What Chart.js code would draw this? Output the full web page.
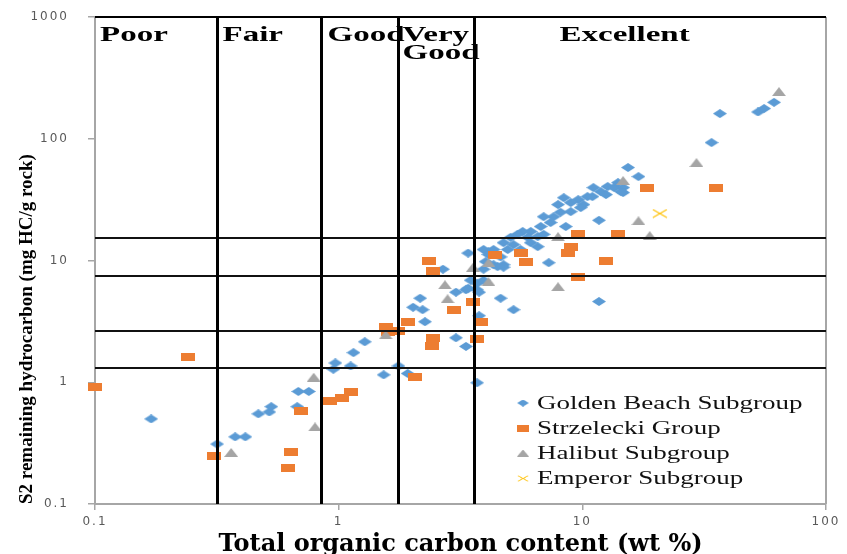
<!DOCTYPE html>
<html>
<head>
<meta charset="utf-8">
<script src="https://cdn.jsdelivr.net/npm/chart.js@4/dist/chart.umd.min.js"></script>
<style>
html,body{margin:0;padding:0;background:#fff;overflow:hidden}
#wrap{width:847px;height:554px;position:relative}
</style>
</head>
<body>
<div id="wrap"><canvas id="c"></canvas></div>
<script>
// ---- data ----
const xTickValues = [0.1, 1, 10, 100];
const yTickValues = [0.1, 1, 10, 100, 1000];
const tocBoundaries = [0.317, 0.849, 1.75, 3.6];
const s2Boundaries = [1.31, 2.63, 7.46, 15.3];
const zoneLabels = ['Poor', 'Fair', 'Good', 'Very\nGood', 'Excellent'];
const seriesNames = ['Golden Beach Subgroup', 'Strzelecki Group', 'Halibut Subgroup', 'Emperor Subgroup'];
const xTitle = 'Total organic carbon content (wt %)';
const yTitle = 'S2 remaining hydrocarbon (mg HC/g rock)';

const goldenBeachTOC = [0.170,0.317,0.376,0.414,0.468,0.519,0.529,0.676,0.683,0.754,0.951,0.969,1.12,1.15,1.28,1.53,1.76,1.92,2.02,2.16,2.21,2.26,2.68,3.03,3.03,3.33,3.33,3.40,3.48,3.70,3.70,3.77,3.93,4.12,4.62,4.75,5.22,7.28,11.7,11.7,15.4,17.0,33.9,36.7,52.6,55.7,61.2,14.7,14.7,
  8.39,7.95,6.94,8.14,8.96,9.62,10.1,10.5,11.1,11.9,12.7,13.5,14.4,14.0,12.5,11.0,9.85,8.96,7.41,6.75,6.14,5.69,5.42,5.97,5.08,6.56,6.94,8.55,7.62,4.75,5.22,6.14,6.56,4.32,4.94,5.58,3.93,4.12,4.62,4.01,4.32,4.75,3.40,3.77,3.70,3.93,4.49];
const goldenBeachS2 = [0.50,0.311,0.356,0.356,0.55,0.57,0.63,0.63,0.84,0.84,1.28,1.44,1.36,1.75,2.15,1.15,1.36,1.18,4.13,4.9,3.94,3.14,8.48,2.32,5.49,5.75,1.97,11.5,6.89,5.75,0.99,3.52,8.48,11.8,4.9,9.23,3.94,9.59,21.4,4.6,58,48.9,93,161,166,177,199,39.7,36.1,
  32.8,28.8,22.9,24.9,25.2,31.6,28.8,33.5,39.7,36.8,40.5,39.7,36.8,43.6,34.8,33.5,27.2,29.9,20.5,19.0,17.3,17.3,16.4,15.5,15.5,15.7,16.4,19.0,22.9,14.0,13.5,14.0,13.0,12.3,12.3,12.3,12.3,11.2,10.7,9.78,9.23,8.81,5.92,5.49,6.5,6.89,8.9];

const strzeleckiTOC = [0.1,0.241,0.308,0.639,0.621,0.703,0.925,1.035,1.12,1.56,1.60,1.76,1.92,2.06,2.34,2.45,2.43,2.41,2.96,3.56,3.84,3.70,4.38,5.58,5.88,8.96,8.75,9.62,14.0,12.5,9.62,18.5,35.3];
const strzeleckiS2 = [0.92,1.62,0.248,0.265,0.198,0.58,0.70,0.745,0.83,2.83,2.60,2.62,3.14,1.10,9.96,8.24,2.32,2.0,3.94,4.54,3.1,2.28,11.2,11.5,9.78,13.0,11.5,16.4,16.4,9.96,7.36,39.7,39.7];

const halibutTOC = [0.362,0.79,0.80,1.56,2.73,2.80,3.56,4.12,4.12,7.95,7.95,14.7,17.0,18.9,29.4,64.1];
const halibutS2 = [0.265,1.10,0.43,2.45,6.32,4.85,8.81,9.59,6.7,15.7,6.09,45.3,21.2,16.0,63.7,244];

const emperorTOC = [20.8];
const emperorS2 = [24.3];

// ---- marker images ----
function makeMarker(w, h, draw) {
  const c = document.createElement('canvas');
  c.width = w; c.height = h;
  draw(c.getContext('2d'), w, h);
  return c;
}
const diamondImg = makeMarker(14, 9, (g, w, h) => {
  g.fillStyle = '#5b9bd5'; g.beginPath();
  g.moveTo(w/2, 0); g.lineTo(w, h/2); g.lineTo(w/2, h); g.lineTo(0, h/2); g.closePath(); g.fill();
});
const rectImg = makeMarker(14, 8, (g, w, h) => { g.fillStyle = '#ed7d31'; g.fillRect(0, 0, w, h); });
const triImg = makeMarker(14, 9, (g, w, h) => {
  g.fillStyle = '#a5a5a5'; g.beginPath();
  g.moveTo(w/2, 0); g.lineTo(w, h); g.lineTo(0, h); g.closePath(); g.fill();
});
const crossImg = makeMarker(16, 10, (g, w, h) => {
  g.strokeStyle = '#ffc000'; g.lineWidth = 1.2; g.beginPath();
  g.moveTo(1, 1); g.lineTo(w-1, h-1); g.moveTo(w-1, 1); g.lineTo(1, h-1); g.stroke();
});
const markerImgs = [diamondImg, rectImg, triImg, crossImg];

const toPoints = (xs, ys) => xs.map((v, i) => ({x: v, y: ys[i]}));

function stretchedText(ctx, text, x, y, font, sx, color) {
  ctx.save();
  ctx.translate(x, y);
  ctx.scale(sx, 1);
  ctx.font = font;
  ctx.fillStyle = color;
  ctx.textAlign = 'left';
  ctx.textBaseline = 'alphabetic';
  ctx.fillText(text, 0, 0);
  ctx.restore();
}

// wider tick labels (the reference is horizontally stretched)
function spaceTickLabels(scale) {
  if (scale._spaced) return;
  scale._spaced = true;
  const orig = scale.drawLabels;
  scale.drawLabels = function (area) {
    const ctx = this.ctx;
    ctx.save();
    ctx.letterSpacing = '2px';
    orig.call(this, area);
    ctx.restore();
  };
}

const overlay = {
  id: 'overlay',
  afterDatasetsDraw(chart) {
    const {ctx, chartArea: a, scales: {x, y}} = chart;
    ctx.save();
    // right border
    ctx.strokeStyle = '#a6a6a6'; ctx.lineWidth = 2;
    ctx.beginPath(); ctx.moveTo(a.right, a.top); ctx.lineTo(a.right, a.bottom); ctx.stroke();
    // top border
    ctx.strokeStyle = '#000'; ctx.lineWidth = 2;
    ctx.beginPath(); ctx.moveTo(a.left, a.top); ctx.lineTo(a.right, a.top); ctx.stroke();
    // horizontal class boundaries
    ctx.strokeStyle = '#111'; ctx.lineWidth = 2;
    s2Boundaries.forEach(v => {
      const py = Math.round(y.getPixelForValue(v));
      ctx.beginPath(); ctx.moveTo(a.left, py); ctx.lineTo(a.right, py); ctx.stroke();
    });
    // vertical class boundaries
    ctx.strokeStyle = '#000'; ctx.lineWidth = 3;
    const bx = tocBoundaries.map(v => Math.round(x.getPixelForValue(v)) + 0.5);
    bx.forEach(px => {
      ctx.beginPath(); ctx.moveTo(px, a.top); ctx.lineTo(px, a.bottom); ctx.stroke();
    });
    // zone labels
    const zf = 'bold 22px "Liberation Serif"';
    const base = a.top + 23.5;
    const lefts = [a.left + 5, bx[0] + 5, bx[1] + 6, bx[2] + 4, bx[3] + 85];
    zoneLabels.forEach((t, i) => {
      t.split('\n').forEach((line, j) => stretchedText(ctx, line, lefts[i], base + j * 18, zf, 1.5, '#000'));
    });
    // legend
    const lf = '18px "Liberation Serif"';
    const mx = a.right - 303, tx = a.right - 289;
    const bases = [a.bottom - 95.5, a.bottom - 70.5, a.bottom - 45.5, a.bottom - 20];
    seriesNames.forEach((name, i) => {
      const img = markerImgs[i];
      const w = 12, h = 7;
      ctx.drawImage(img, mx - w/2, bases[i] - 5.5 - h/2, w, h);
      stretchedText(ctx, name, tx, bases[i], lf, 1.5, '#111');
    });
    ctx.restore();
  }
};

const tickFont = {family: '"DejaVu Sans"', size: 12};
const tickColor = '#595959';

new Chart(document.getElementById('c'), {
  type: 'scatter',
  data: {
    datasets: [
      {label: seriesNames[0], data: toPoints(goldenBeachTOC, goldenBeachS2), pointStyle: diamondImg, pointRadius: 6, order: 4, clip: false},
      {label: seriesNames[1], data: toPoints(strzeleckiTOC, strzeleckiS2), pointStyle: rectImg, pointRadius: 6, order: 3, clip: false},
      {label: seriesNames[2], data: toPoints(halibutTOC, halibutS2), pointStyle: triImg, pointRadius: 6, order: 2, clip: false},
      {label: seriesNames[3], data: toPoints(emperorTOC, emperorS2), pointStyle: crossImg, pointRadius: 6, order: 1, clip: false}
    ]
  },
  options: {
    responsive: true,
    maintainAspectRatio: false,
    animation: false,
    events: [],
    layout: {padding: {left: 0, top: 17, right: 21, bottom: 0}},
    plugins: {legend: {display: false}, tooltip: {enabled: false}},
    scales: {
      x: {
        type: 'logarithmic', min: 0.1, max: 100,
        afterBuildTicks: s => { s.ticks = xTickValues.map(v => ({value: v})); },
        afterFit: s => { s.height = 50; s.paddingLeft = 0; s.paddingRight = 0; spaceTickLabels(s); },
        ticks: {autoSkip: false, maxRotation: 0, font: tickFont, color: tickColor, padding: 5, callback: v => String(v)},
        grid: {display: true, drawOnChartArea: false, drawTicks: true, tickLength: 6, color: '#a6a6a6', lineWidth: 1.5},
        border: {display: true, color: '#a6a6a6', width: 2},
        title: {display: true, text: xTitle, color: '#000', font: {family: '"DejaVu Serif"', weight: 'bold', size: 24, lineHeight: '18px'}, padding: {top: 0, bottom: 0}}
      },
      y: {
        type: 'logarithmic', min: 0.1, max: 1000,
        afterBuildTicks: s => { s.ticks = yTickValues.map(v => ({value: v})); },
        afterFit: s => { s.width = 95; s.paddingTop = 0; s.paddingBottom = 0; spaceTickLabels(s); },
        ticks: {autoSkip: false, font: tickFont, color: tickColor, padding: 19, callback: v => String(v)},
        grid: {display: true, drawOnChartArea: false, drawTicks: true, tickLength: 7, color: '#a6a6a6', lineWidth: 1.5},
        border: {display: true, color: '#a6a6a6', width: 2},
        title: {display: true, text: yTitle, align: 'start', color: '#000', font: {family: '"Liberation Serif"', weight: 'bold', size: 19}, padding: {top: 16, bottom: 0}}
      }
    }
  },
  plugins: [overlay]
});
</script>
</body>
</html>
